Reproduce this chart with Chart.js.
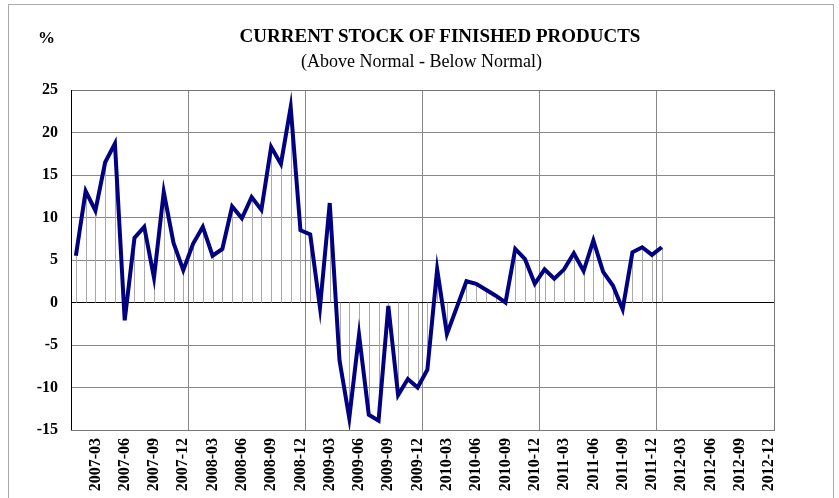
<!DOCTYPE html>
<html lang="en">
<head>
    <meta charset="UTF-8">
    <title>Current Stock of Finished Products</title>
    <script src="https://cdn.jsdelivr.net/npm/chart.js"></script>
    <style>
        body {
            margin: 0;
            background: #fff;
            font-family: "Liberation Serif", "Times New Roman", serif;
        }
        .wrap {
            position: relative;
            width: 839px;
            height: 498px;
            overflow: hidden;
        }
        .frame {
            position: absolute;
            left: 8px;
            top: 4px;
            width: 824px;
            height: 520px;
            border: 1px solid #aaa;
        }
        .title, .subtitle, .unit {
            position: absolute;
            color: #000;
            white-space: nowrap;
            line-height: 1;
        }
        .title {
            left: 0;
            width: 880px;
            top: 26px;
            text-align: center;
            font-weight: bold;
            font-size: 19px;
        }
        .subtitle {
            left: 0;
            width: 843px;
            top: 52px;
            text-align: center;
            font-size: 18px;
        }
        .unit {
            left: 38px;
            top: 29px;
            font-weight: bold;
            font-size: 17px;
        }
        canvas {
            position: absolute;
            left: 0;
            top: 0;
        }
    </style>
</head>
<body>
<div class="wrap">
    <div class="frame"></div>
    <canvas id="stockChart" width="839" height="498"></canvas>
    <div class="unit">%</div>
    <div class="title">CURRENT STOCK OF FINISHED PRODUCTS</div>
    <div class="subtitle">(Above Normal - Below Normal)</div>
</div>

<script>
    // monthly categories 2007-01 .. 2012-12
    const years = [2007, 2008, 2009, 2010, 2011, 2012];
    const months = ['01', '02', '03', '04', '05', '06', '07', '08', '09', '10', '11', '12'];
    const labels = [];
    years.forEach(y => months.forEach(m => labels.push(y + '-' + m)));

    // balance (above normal - below normal), 2007-01 .. 2012-01
    const balance = [
        5.5, 13.1, 10.8, 16.5, 18.7, -2.1, 7.6, 8.9, 2.9, 13.0, 7.0, 3.8,
        6.9, 8.9, 5.5, 6.3, 11.3, 9.9, 12.4, 10.9, 18.3, 16.3, 23.0, 8.5,
        8.0, -0.6, 11.7, -6.8, -13.6, -3.8, -13.2, -13.9, -0.4, -10.9, -9.0, -10.0,
        -7.9, 3.9, -3.7, -0.6, 2.5, 2.2, 1.5, 0.8, 0.0, 6.3, 5.1, 2.2,
        3.9, 2.8, 3.9, 5.8, 3.7, 7.3, 3.6, 2.0, -0.8, 5.9, 6.5, 5.6,
        6.5
    ];

    const yTicks = [25, 20, 15, 10, 5, 0, -5, -10, -15];
    const tickMonths = ['03', '06', '09', '12'];

    const font = { family: '"Liberation Serif", "Times New Roman", serif', weight: 'bold' };

    // thin drop lines from each point to the zero line
    const dropLines = {
        id: 'dropLines',
        beforeDatasetsDraw(chart) {
            const meta = chart.getDatasetMeta(0);
            const zero = chart.scales.y.getPixelForValue(0);
            const c = chart.ctx;
            c.save();
            c.strokeStyle = '#aaaaaa';
            c.lineWidth = 1;
            meta.data.forEach(pt => {
                const x = Math.round(pt.x) + 0.5;
                c.beginPath();
                c.moveTo(x, zero);
                c.lineTo(x, pt.y);
                c.stroke();
            });
            c.restore();
        }
    };

    const plotFrame = {
        id: 'plotFrame',
        afterDraw(chart) {
            const a = chart.chartArea;
            const c = chart.ctx;
            c.save();
            c.strokeStyle = '#777';
            c.lineWidth = 1;
            c.strokeRect(Math.round(a.left) + 0.5, Math.round(a.top) + 0.5,
                Math.round(a.right - a.left), Math.round(a.bottom - a.top));
            c.beginPath();
            c.strokeStyle = '#000';
            c.moveTo(Math.round(a.left) + 0.5, a.top);
            c.lineTo(Math.round(a.left) + 0.5, a.bottom);
            c.stroke();
            c.restore();
        }
    };

    new Chart(document.getElementById('stockChart'), {
        type: 'line',
        data: {
            labels: labels,
            datasets: [{
                data: balance,
                borderColor: '#000080',
                borderWidth: 4,
                pointRadius: 0,
                tension: 0,
                fill: false
            }]
        },
        options: {
            responsive: false,
            animation: false,
            layout: { padding: { left: 8, right: 65, top: 90, bottom: 0 } },
            plugins: {
                legend: { display: false },
                tooltip: { enabled: false }
            },
            scales: {
                x: {
                    type: 'category',
                    offset: true,
                    afterFit: s => { s.height = 68; },
                    grid: {
                        offset: true,
                        drawTicks: false,
                        color: ctx => (ctx.index % 12 === 0 ? '#888' : 'rgba(0,0,0,0)')
                    },
                    border: { color: '#444' },
                    ticks: {
                        autoSkip: false,
                        maxRotation: 90,
                        minRotation: 90,
                        padding: 8,
                        color: '#000',
                        font: Object.assign({ size: 16 }, font),
                        callback: function (v) {
                            const l = this.getLabelForValue(v);
                            return tickMonths.includes(l.slice(5)) ? l : '';
                        }
                    }
                },
                y: {
                    min: -15,
                    max: 25,
                    afterFit: s => { s.width = 63; },
                    afterBuildTicks: s => { s.ticks = yTicks.map(v => ({ value: v })); },
                    grid: {
                        drawTicks: false,
                        color: ctx => (ctx.tick && ctx.tick.value === 0 ? '#000' : '#888')
                    },
                    border: { color: '#000' },
                    ticks: {
                        padding: 13,
                        color: '#000',
                        font: Object.assign({ size: 16 }, font)
                    }
                }
            }
        },
        plugins: [dropLines, plotFrame]
    });
</script>
</body>
</html>
